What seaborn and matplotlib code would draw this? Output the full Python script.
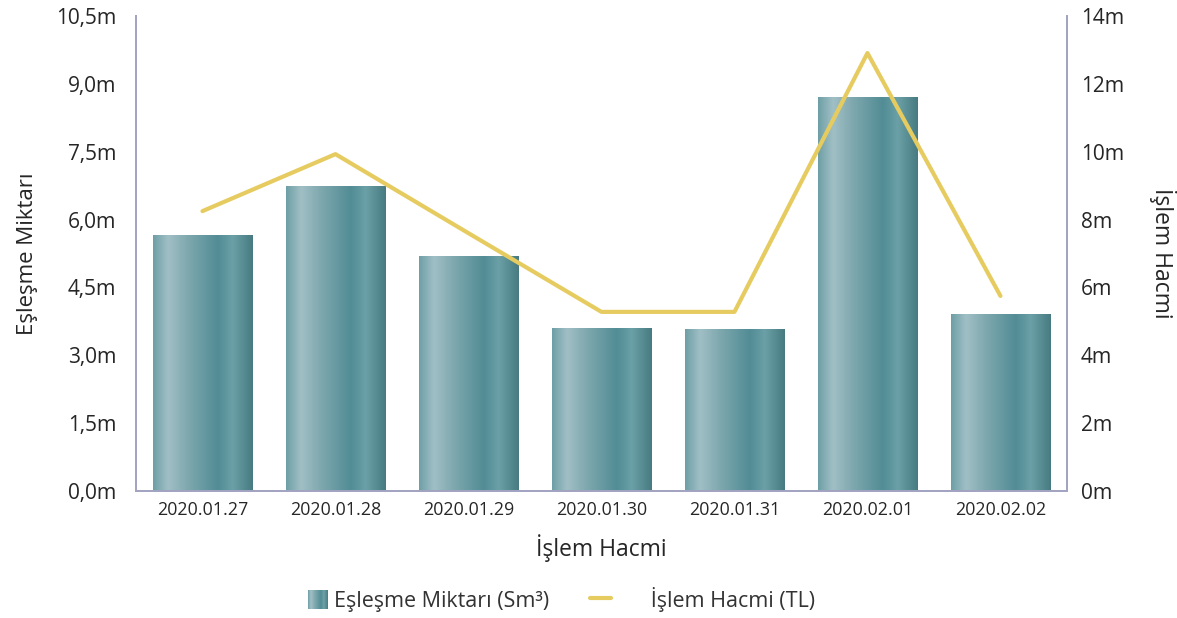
#!/usr/bin/env python3
"""
Eşleşme miktarı (bar) + İşlem hacmi (line) dual-axis chart
"""
import numpy as np
import pandas as pd
import matplotlib
matplotlib.use("Agg")
import matplotlib.pyplot as plt
from matplotlib import font_manager as fm
from matplotlib.colors import LinearSegmentedColormap
from matplotlib.patches import Patch, Rectangle
from matplotlib.lines import Line2D
from matplotlib.legend_handler import HandlerBase
from matplotlib.ticker import FuncFormatter
import seaborn as sns

# data (millions)
dates = ["2020.01.27", "2020.01.28", "2020.01.29", "2020.01.30",
         "2020.01.31", "2020.02.01", "2020.02.02"]
eslesme = [5.64, 6.74, 5.19, 3.60, 3.56, 8.69, 3.91]
islem = [8.25, 9.93, 7.60, 5.28, 5.28, 12.91, 5.75]

left_ticks = [0, 1.5, 3.0, 4.5, 6.0, 7.5, 9.0, 10.5]
right_ticks = [0, 2, 4, 6, 8, 10, 12, 14]

# prefer the static Open Sans files over the variable one
fm.fontManager.ttflist = [f for f in fm.fontManager.ttflist
                          if not (f.name == "Open Sans" and '[' in f.fname)]
if hasattr(fm.fontManager, '_findfont_cached'):
    fm.fontManager._findfont_cached.cache_clear()

sns.set_style("white")
plt.rcParams['font.family'] = ['Open Sans', 'DejaVu Sans']
plt.rcParams['text.color'] = '#333333'

spine_col = '#a3a3c2'
line_col = '#e6cc60'
grad = LinearSegmentedColormap.from_list(
    "teal", [(0.0, '#6e9fa6'), (0.15, '#a0bfc5'), (0.35, '#7ea8ae'),
             (0.65, '#528c95'), (0.8, '#6ba0a7'), (1.0, '#477b81')])


class GradientHandler(HandlerBase):
    """legend box filled with the same horizontal gradient"""
    def create_artists(self, legend, orig_handle, xdescent, ydescent,
                       width, height, fontsize, trans):
        n = 20
        out = []
        for i in range(n):
            r = Rectangle((-xdescent + width * i / n, -ydescent), width / n + 0.3,
                          height, facecolor=grad((i + 0.5) / n),
                          edgecolor='none', transform=trans)
            out.append(r)
        return out


df = pd.DataFrame({"date": dates, "eslesme": eslesme, "islem": islem})

fig = plt.figure(figsize=(11.77, 6.18), dpi=100)
ax = fig.add_axes([0.1155, 0.2055, 0.791, 0.7685])

sns.barplot(data=df, x="date", y="eslesme", ax=ax, width=0.75,
            color='#5f949b', saturation=1)

# horizontal gradient on each bar
g = np.linspace(0, 1, 256).reshape(1, -1)
for p in list(ax.patches):
    x0, y0 = p.get_x(), p.get_y()
    w, h = p.get_width(), p.get_height()
    p.set_facecolor('none')
    p.set_edgecolor('none')
    ax.imshow(g, cmap=grad, extent=[x0, x0 + w, y0, y0 + h],
              aspect='auto', zorder=2, interpolation='bicubic')

ax.set_xlim(-0.5, len(dates) - 0.5)
ax.set_ylim(0, 10.5)
ax.set_yticks(left_ticks)
ax.yaxis.set_major_formatter(FuncFormatter(lambda v, _: f"{v:.1f}m".replace('.', ',')))
ax.set_xlabel("İşlem Hacmi", fontsize=16.5, labelpad=11)
ax.set_ylabel("Eşleşme Miktarı", fontsize=16, labelpad=13)
ax.tick_params(axis='x', labelsize=12.8, length=0, pad=7)
ax.tick_params(axis='y', labelsize=15, length=0, pad=14)

ax2 = ax.twinx()
sns.lineplot(data=df, x="date", y="islem", ax=ax2, color=line_col, lw=3,
             sort=False, zorder=3)
ax2.set_ylim(0, 14)
ax2.set_yticks(right_ticks)
ax2.yaxis.set_major_formatter(FuncFormatter(lambda v, _: f"{v:.0f}m"))
ax2.set_ylabel("İşlem Hacmi", fontsize=16.5, rotation=270, labelpad=38)
ax2.tick_params(axis='y', labelsize=15, length=0, pad=10)
ax2.set_xlim(-0.5, len(dates) - 0.5)

for a in (ax, ax2):
    a.spines['top'].set_visible(False)
    for s in ('left', 'right', 'bottom'):
        a.spines[s].set_color(spine_col)
        a.spines[s].set_linewidth(1.3)
    a.grid(False)

bar_handle = Patch(facecolor='#6e9fa6', edgecolor='none')
handles = [bar_handle, Line2D([0], [0], color=line_col, lw=3)]
fig.legend(handles, ["Eşleşme Miktarı (Sm³)", "      İşlem Hacmi (TL)"],
           handler_map={bar_handle: GradientHandler()},
           loc='center', bbox_to_anchor=(0.477, 0.03), ncol=2, frameon=False,
           fontsize=15.5, handlelength=0.95, handleheight=1.0, columnspacing=1.9,
           handletextpad=0.3)

fig.savefig("out.png", dpi=100)
